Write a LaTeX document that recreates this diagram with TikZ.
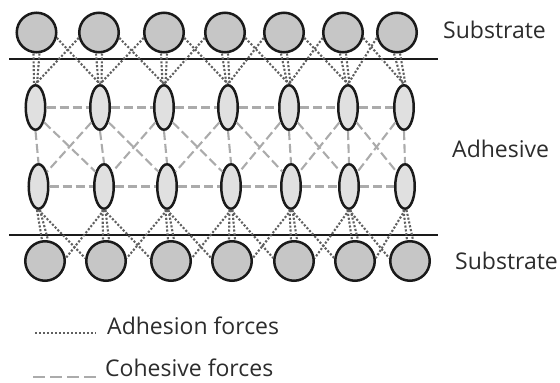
\documentclass[tikz,border=0pt]{standalone}
\usepackage{fontspec}
\setmainfont{Open Sans}
\usetikzlibrary{shapes.geometric}
\definecolor{outl}{HTML}{1A1A1A}
\definecolor{subfill}{HTML}{C6C6C6}
\definecolor{adhfill}{HTML}{E0E0E0}
\definecolor{dotc}{HTML}{606060}
\definecolor{dashc}{HTML}{ABABAB}
\definecolor{txt}{HTML}{2C2C2C}
\begin{document}
\begin{tikzpicture}[x=1pt,y=-1pt,
  subst/.style={circle, draw=outl, fill=subfill, line width=2.5pt, minimum size=39.5pt, inner sep=0pt},
  adh/.style={ellipse, draw=outl, fill=adhfill, line width=2.5pt, minimum width=19.5pt, minimum height=44.5pt, inner sep=0pt},
  adhesion/.style={draw=dotc, line width=2.1pt, dash pattern=on 2.1pt off 1.8pt},
  cohesion/.style={draw=dashc, line width=2.1pt, dash pattern=on 9pt off 4pt},
  plate/.style={draw=outl, line width=2.6pt},
  lbl/.style={font=\fontsize{23}{27}\selectfont, text=txt, inner sep=0pt, anchor=base west}]
\useasboundingbox (0,0) rectangle (560,383);
% substrate and adhesive particles
\foreach \x [count=\i] in {36.5,99,164,225,284,343,397}
  \node[subst] (t\i) at (\x,32.5) {};
\foreach \x [count=\i] in {35.5,100,164,228,289,348,404}
  \node[adh] (a\i) at (\x,107.5) {};
\foreach \x [count=\i] in {38.5,104,167,231,291,349,405}
  \node[adh] (b\i) at (\x,186.5) {};
\foreach \x [count=\i] in {45,106,171,232,294,355,410}
  \node[subst] (s\i) at (\x,261) {};
% plates
\coordinate (tl) at (9,59);
\coordinate (tr) at (438,59);
\coordinate (bl) at (9,235);
\coordinate (br) at (438,235);
\draw[plate] (tl) -- (tr);
\draw[plate] (bl) -- (br);
% cohesive forces
\foreach \i in {1,...,7}
  \draw[cohesion] (a\i.south) -- (b\i.north);
\foreach \i [evaluate=\i as \j using int(\i+1)] in {1,...,6} {
  \draw[cohesion] (a\i.east) -- (a\j.west);
  \draw[cohesion] (b\i.east) -- (b\j.west);
  \draw[cohesion] (a\i.-60) -- (b\j.120);
  \draw[cohesion] (a\j.-120) -- (b\i.60);
}
% adhesion forces
\foreach \i in {1,...,7} {
  \draw[adhesion] ([xshift=-3pt]t\i.south) -- ([xshift=-1.5pt]a\i.north);
  \draw[adhesion] ([xshift=3pt]t\i.south) -- ([xshift=1.5pt]a\i.north);
  \draw[adhesion] ([xshift=-1.5pt]b\i.south) -- ([xshift=-3pt]s\i.north);
  \draw[adhesion] ([xshift=1.5pt]b\i.south) -- ([xshift=3pt]s\i.north);
}
\foreach \i [evaluate=\i as \j using int(\i+1)] in {1,...,6} {
  \draw[adhesion] (t\i.-15) -- (a\j.north);
  \draw[adhesion] (t\j.-165) -- (a\i.north);
  \draw[adhesion] (b\i.south) -- (s\j.172);
  \draw[adhesion] (b\j.south) -- (s\i.8);
}
% labels
\node[lbl] (lsub1) at (443,38.5) {Substrate};
\node[lbl] (ladh) at (452,157) {Adhesive};
\node[lbl] (lsub2) at (455,269) {Substrate};
% legend
\coordinate (da) at (35,333);
\coordinate (db) at (96,333);
\coordinate (ca) at (33,377);
\coordinate (cb) at (100,377);
\draw[draw=dotc, line width=1.7pt, dash pattern=on 1.7pt off 2.3pt] (da) -- (db);
\draw[draw=dashc, line width=1.9pt, dash pattern=on 12pt off 5pt] (ca) -- (cb);
\node[lbl] (ladhf) at (107,334) {Adhesion forces};
\node[lbl] (lcohf) at (105,376) {Cohesive forces};
\end{tikzpicture}
\end{document}
